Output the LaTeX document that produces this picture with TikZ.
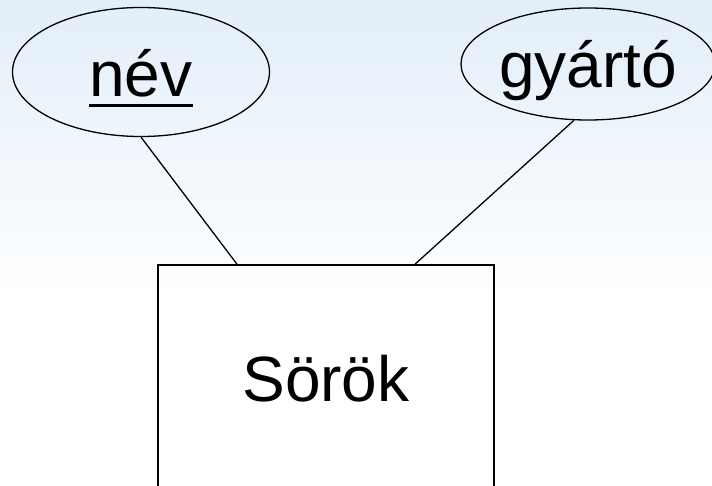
\documentclass[tikz,border=0pt]{standalone}
\usepackage{fontspec}
\setmainfont{Liberation Sans}
\usepackage{tikz}
\usetikzlibrary{shapes.geometric}
\definecolor{skyblue}{RGB}{226,238,249}
\definecolor{paleblue}{RGB}{240,246,252}
\tikzstyle{line} = [draw, line width=1.3pt]
\tikzstyle{attr} = [draw, ellipse, line width=1.3pt, inner sep=0pt, text depth=0pt, font=\fontsize{64}{70}\selectfont]
\tikzstyle{entity} = [draw, rectangle, line width=1.6pt, inner sep=0pt, text depth=0pt, font=\fontsize{64}{70}\selectfont]
\newcommand\keyattr[1]{\setbox0\hbox{#1}\rlap{\usebox0}\smash{\rule[-10.5pt]{\wd0}{3.5pt}}}

\begin{document}
\begin{tikzpicture}[x=1pt, y=-1pt]
        \useasboundingbox (0,0) rectangle (712,486);
        \shade[top color=skyblue, bottom color=white, middle color=paleblue] (0,0) rectangle (712,300);
        \node[attr, minimum width=257pt, minimum height=129pt, text height=50pt] (nev) at (141,72) {\keyattr{név}};
        \node[attr, minimum width=254pt, minimum height=112pt, text height=48pt] (gyarto) at (588,64) {gyártó};
        \node[entity, minimum width=336pt, minimum height=226pt, text height=46pt] (sorok) at (326,378) {Sörök};
        \path[line] (nev.south) -- ([xshift=-89pt]sorok.north);
        \path[line] (gyarto.256) -- ([xshift=89pt]sorok.north);
    \end{tikzpicture}
\end{document}
